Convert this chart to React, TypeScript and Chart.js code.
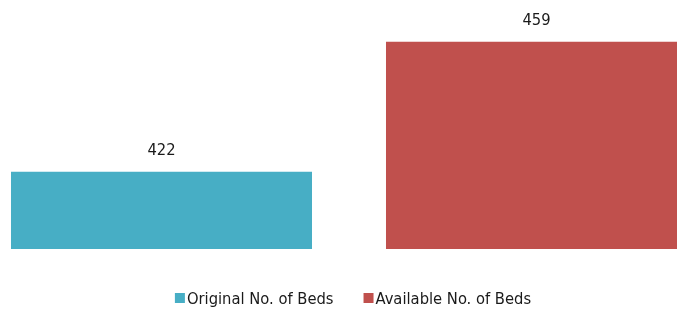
import React, { useEffect, useRef } from 'react';
import { Chart, registerables } from 'chart.js';

Chart.register(...registerables);

const categories = [''];
const seriesNames = ['Original No. of Beds', 'Available No. of Beds'];
const originalBeds = [422];
const availableBeds = [459];
const seriesColors = ['#47AEC5', '#C0504D'];
const yMin = 400;
const yMax = 470;

const FONT_FAMILY = "'DejaVu Sans Condensed', 'Liberation Sans Narrow', sans-serif";
const FONT = `16.4px ${FONT_FAMILY}`;
const TEXT_COLOR = '#1a1a1a';

const valueLabels = {
  id: 'valueLabels',
  afterDatasetsDraw(chart: any) {
    const ctx = chart.ctx;
    ctx.save();
    ctx.font = FONT;
    ctx.fillStyle = TEXT_COLOR;
    ctx.textAlign = 'center';
    ctx.textBaseline = 'alphabetic';
    chart.data.datasets.forEach((ds: any, i: number) => {
      const meta = chart.getDatasetMeta(i);
      meta.data.forEach((el: any, j: number) => {
        const v = ds.data[j];
        if (v == null) return;
        ctx.fillText(String(v), el.x, el.y - 16.5);
      });
    });
    ctx.restore();
  },
};

const bottomLegend = {
  id: 'bottomLegend',
  afterDraw(chart: any) {
    const ctx = chart.ctx;
    ctx.save();
    ctx.font = FONT;
    ctx.textBaseline = 'alphabetic';
    ctx.textAlign = 'left';
    const box = 10;
    const gap = 2;
    const spacing = 30;
    const items = chart.data.datasets.map((ds: any) => ({
      label: ds.label,
      color: ds.backgroundColor,
      w: ctx.measureText(ds.label).width,
    }));
    const total =
      items.reduce((s: number, it: any) => s + box + gap + it.w, 0) + spacing * (items.length - 1);
    const centerX = 353;
    let x = centerX - total / 2;
    const boxTop = 293;
    const baseline = 304;
    items.forEach((it: any) => {
      ctx.fillStyle = it.color;
      ctx.fillRect(x, boxTop, box, box);
      x += box + gap;
      ctx.fillStyle = TEXT_COLOR;
      ctx.fillText(it.label, x, baseline);
      x += it.w + spacing;
    });
    ctx.restore();
  },
};

export default function App() {
  const canvasRef = useRef<HTMLCanvasElement | null>(null);

  useEffect(() => {
    if (!canvasRef.current) return;
    const chart = new Chart(canvasRef.current, {
      type: 'bar',
      data: {
        labels: categories,
        datasets: [
          {
            label: seriesNames[0],
            data: originalBeds,
            backgroundColor: seriesColors[0],
            borderWidth: 0,
          },
          {
            label: seriesNames[1],
            data: availableBeds,
            backgroundColor: seriesColors[1],
            borderWidth: 0,
          },
        ],
      },
      options: {
        responsive: false,
        animation: false,
        devicePixelRatio: 1,
        layout: { padding: { left: 21, right: 0, top: 3, bottom: 60 } },
        datasets: {
          bar: {
            categoryPercentage: 1.1433,
            barPercentage: 0.8027,
            base: yMin,
            clip: false as any,
          },
        },
        scales: {
          x: { display: false },
          y: { display: false, min: yMin, max: yMax },
        },
        plugins: {
          legend: { display: false },
          tooltip: { enabled: false },
        },
      },
      plugins: [valueLabels, bottomLegend],
    });
    return () => chart.destroy();
  }, []);

  return (
    <div style={{ position: 'absolute', left: 0, top: 0, width: 677, height: 309, background: '#fff' }}>
      <canvas ref={canvasRef} width={677} height={309} style={{ display: 'block' }} />
    </div>
  );
}
